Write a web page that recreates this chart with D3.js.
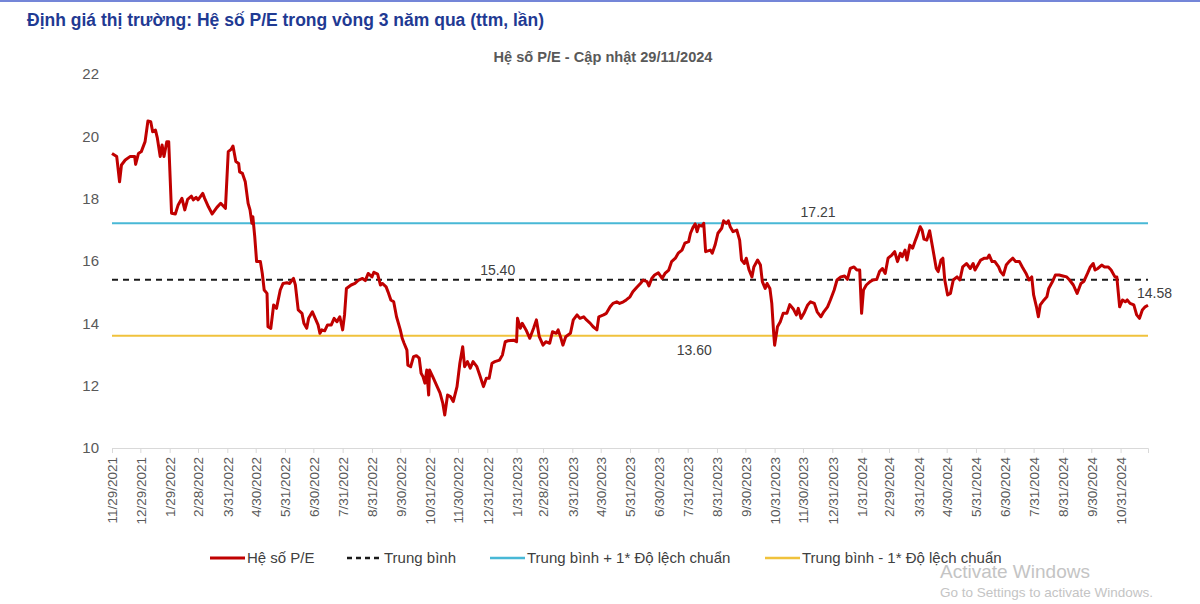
<!DOCTYPE html>
<html>
<head>
<meta charset="utf-8">
<script src="https://cdn.jsdelivr.net/npm/d3@7"></script>
<style>
  body { margin: 0; background: #fff; }
  svg { display: block; }
  text { font-family: "Liberation Sans", Arial, sans-serif; }
</style>
</head>
<body>
<svg></svg>
<script>
/* data */
var peDates = [
  "2021-11-29","2021-12-04","2021-12-07","2021-12-09","2021-12-13","2021-12-18","2021-12-23","2021-12-24","2021-12-27","2021-12-30",
  "2022-01-03","2022-01-06","2022-01-09","2022-01-11","2022-01-14","2022-01-16","2022-01-19","2022-01-21","2022-01-23","2022-01-26","2022-01-28","2022-01-31",
  "2022-02-04","2022-02-07","2022-02-11","2022-02-14","2022-02-17","2022-02-21","2022-02-23","2022-02-26","2022-02-28",
  "2022-03-05","2022-03-07","2022-03-11","2022-03-15","2022-03-20","2022-03-24","2022-03-29",
  "2022-04-01","2022-04-04","2022-04-06","2022-04-09","2022-04-12","2022-04-13","2022-04-16","2022-04-19","2022-04-22","2022-04-24","2022-04-26","2022-04-27","2022-04-29",
  "2022-05-01","2022-05-05","2022-05-07","2022-05-09","2022-05-12","2022-05-13","2022-05-16","2022-05-19","2022-05-22","2022-05-26","2022-05-29",
  "2022-06-02","2022-06-05","2022-06-09","2022-06-11","2022-06-14","2022-06-18","2022-06-20","2022-06-23","2022-06-25","2022-06-29",
  "2022-07-02","2022-07-05","2022-07-07","2022-07-09","2022-07-12","2022-07-15","2022-07-19","2022-07-22","2022-07-25","2022-07-28","2022-07-31",
  "2022-08-02","2022-08-04","2022-08-09","2022-08-13","2022-08-17","2022-08-21","2022-08-24","2022-08-27","2022-08-31",
  "2022-09-02","2022-09-06","2022-09-09","2022-09-11","2022-09-15","2022-09-17","2022-09-20","2022-09-23","2022-09-26","2022-09-30",
  "2022-10-02","2022-10-04","2022-10-07","2022-10-08","2022-10-11","2022-10-14","2022-10-17","2022-10-20","2022-10-22","2022-10-24","2022-10-26","2022-10-28","2022-10-30","2022-10-31",
  "2022-11-04","2022-11-08","2022-11-11","2022-11-14","2022-11-16","2022-11-19","2022-11-22","2022-11-25","2022-11-29",
  "2022-12-02","2022-12-05","2022-12-07","2022-12-10","2022-12-13","2022-12-16","2022-12-20","2022-12-23","2022-12-27","2022-12-30",
  "2023-01-02","2023-01-05","2023-01-08","2023-01-13","2023-01-16","2023-01-19","2023-01-22","2023-01-28","2023-01-31",
  "2023-02-01","2023-02-04","2023-02-06","2023-02-10","2023-02-14","2023-02-18","2023-02-21","2023-02-24","2023-02-28",
  "2023-03-03","2023-03-07","2023-03-10","2023-03-14","2023-03-16","2023-03-19","2023-03-21","2023-03-24","2023-03-29",
  "2023-04-01","2023-04-05","2023-04-08","2023-04-12","2023-04-15","2023-04-19","2023-04-22","2023-04-26","2023-04-28",
  "2023-05-03","2023-05-06","2023-05-10","2023-05-13","2023-05-17","2023-05-20","2023-05-24","2023-05-27","2023-05-31",
  "2023-06-03","2023-06-07","2023-06-11","2023-06-14","2023-06-18","2023-06-20","2023-06-23","2023-06-26","2023-06-30",
  "2023-07-04","2023-07-07","2023-07-11","2023-07-14","2023-07-18","2023-07-21","2023-07-25","2023-07-28",
  "2023-08-01","2023-08-03","2023-08-06","2023-08-08","2023-08-10","2023-08-12","2023-08-15","2023-08-17","2023-08-19","2023-08-24","2023-08-26","2023-08-29",
  "2023-09-01","2023-09-05","2023-09-07","2023-09-10","2023-09-12","2023-09-14","2023-09-17","2023-09-21","2023-09-24","2023-09-26","2023-09-29",
  "2023-10-01","2023-10-04","2023-10-07","2023-10-09","2023-10-13","2023-10-16","2023-10-18","2023-10-21","2023-10-23","2023-10-26","2023-10-28","2023-10-30","2023-10-31",
  "2023-11-03","2023-11-06","2023-11-09","2023-11-13","2023-11-16","2023-11-20","2023-11-23","2023-11-25","2023-11-28",
  "2023-12-01","2023-12-05","2023-12-08","2023-12-12","2023-12-15","2023-12-19","2023-12-22","2023-12-26","2023-12-29",
  "2024-01-02","2024-01-05","2024-01-09","2024-01-13","2024-01-16","2024-01-19","2024-01-23","2024-01-26","2024-01-29","2024-01-31",
  "2024-02-02","2024-02-05","2024-02-09","2024-02-12","2024-02-16","2024-02-19","2024-02-22","2024-02-25","2024-02-28",
  "2024-03-03","2024-03-06","2024-03-09","2024-03-12","2024-03-14","2024-03-17","2024-03-19","2024-03-22","2024-03-25","2024-03-28","2024-03-30",
  "2024-04-02","2024-04-04","2024-04-06","2024-04-09","2024-04-12","2024-04-15","2024-04-19","2024-04-21","2024-04-24","2024-04-26","2024-04-28",
  "2024-05-01","2024-05-04","2024-05-07","2024-05-11","2024-05-14","2024-05-17","2024-05-21","2024-05-25","2024-05-28","2024-05-30",
  "2024-06-02","2024-06-05","2024-06-09","2024-06-12","2024-06-14","2024-06-17","2024-06-20","2024-06-24","2024-06-26","2024-06-29",
  "2024-07-02","2024-07-05","2024-07-09","2024-07-12","2024-07-16","2024-07-19","2024-07-23","2024-07-26","2024-07-29","2024-07-31",
  "2024-08-03","2024-08-05","2024-08-07","2024-08-11","2024-08-14","2024-08-16","2024-08-20","2024-08-23","2024-08-27","2024-08-31",
  "2024-09-04","2024-09-07","2024-09-11","2024-09-15","2024-09-19","2024-09-22","2024-09-26","2024-09-29",
  "2024-10-02","2024-10-04","2024-10-07","2024-10-11","2024-10-14","2024-10-18","2024-10-21","2024-10-25","2024-10-27","2024-10-30",
  "2024-11-02","2024-11-05","2024-11-07","2024-11-10","2024-11-14","2024-11-17","2024-11-20","2024-11-23","2024-11-26","2024-11-29"
];

var peValues = [
  19.45,19.35,18.54,19.08,19.24,19.35,19.35,19.10,19.45,19.51,
  19.83,20.49,20.47,20.15,20.20,19.94,19.35,19.72,19.35,19.83,19.83,17.53,
  17.51,17.80,18.01,17.64,17.98,18.08,17.96,18.04,17.96,
  18.17,18.01,17.74,17.51,17.72,17.85,17.69,
  19.51,19.58,19.69,19.19,19.13,18.86,18.81,18.54,17.85,17.64,17.21,17.42,16.78,
  15.98,15.98,15.60,15.07,14.96,13.89,13.84,14.59,14.48,15.07,15.28,
  15.30,15.28,15.44,15.23,14.43,14.32,14.00,13.84,14.16,14.37,
  14.16,13.95,13.68,13.79,13.76,13.95,13.95,14.16,14.05,14.21,13.79,
  14.27,15.12,15.23,15.28,15.39,15.44,15.37,15.60,15.49,
  15.64,15.58,15.23,15.28,15.17,15.01,14.75,14.69,14.21,13.79,
  13.52,13.36,13.14,12.66,12.61,12.93,12.96,12.88,12.40,12.29,12.08,12.50,11.70,12.50,
  12.24,11.97,11.77,11.43,11.06,11.70,11.65,11.49,11.97,
  12.72,13.25,12.61,12.77,12.56,12.77,12.61,12.34,11.97,12.24,
  12.24,12.72,12.77,12.82,12.98,13.41,13.44,13.46,13.41,
  14.16,13.84,14.00,13.79,13.52,13.84,14.11,13.57,13.30,
  13.41,13.36,13.73,13.68,13.79,13.52,13.30,13.57,13.68,
  14.11,14.27,14.16,14.21,14.11,14.00,13.89,13.79,14.21,
  14.27,14.32,14.53,14.64,14.69,14.64,14.69,14.75,14.85,
  15.01,15.15,15.28,15.39,15.34,15.20,15.44,15.55,15.62,
  15.44,15.60,15.71,15.98,16.09,16.25,16.35,16.57,
  16.62,16.89,17.10,17.19,16.94,17.15,17.12,17.21,16.30,16.35,16.25,16.51,
  16.89,17.05,17.29,17.21,17.29,17.10,16.94,16.99,16.67,16.03,15.92,
  16.09,15.71,15.49,15.81,16.03,15.87,15.34,15.12,15.28,15.12,14.64,13.68,13.30,
  13.89,14.05,14.32,14.32,14.60,14.45,14.27,14.48,14.16,
  14.32,14.59,14.69,14.64,14.37,14.21,14.37,14.53,14.75,
  15.07,15.39,15.49,15.52,15.41,15.76,15.81,15.71,15.71,14.32,
  15.07,15.23,15.34,15.39,15.41,15.66,15.76,15.60,16.09,
  16.19,16.30,15.98,16.25,16.14,16.35,16.03,16.51,16.41,16.67,16.83,
  17.10,16.99,16.70,16.67,16.97,16.46,15.76,15.66,16.03,16.09,15.39,
  14.91,14.96,15.39,15.49,15.39,15.81,15.92,15.76,15.92,15.71,
  15.87,16.03,16.09,16.09,16.19,15.98,15.98,15.81,15.66,15.55,
  15.87,15.98,16.09,15.98,15.98,15.81,15.60,15.39,15.49,14.91,
  14.53,14.21,14.59,14.75,14.85,15.12,15.34,15.55,15.55,15.52,
  15.49,15.39,15.23,14.96,15.28,15.34,15.60,15.81,
  15.92,15.71,15.76,15.87,15.81,15.81,15.71,15.49,15.49,14.53,
  14.75,14.69,14.75,14.64,14.59,14.27,14.16,14.43,14.53,14.58
];

/* mean and +/- 1 std lines */
var levelNames = ["Trung bình", "Trung bình + 1* Độ lệch chuẩn", "Trung bình - 1* Độ lệch chuẩn"];
var levelValues = [15.40, 17.21, 13.60];
var levelLabels = ["15.40", "17.21", "13.60"];

var yTicks = [10, 12, 14, 16, 18, 20, 22];
var xTickLabels = [
  "11/29/2021","12/29/2021","1/29/2022","2/28/2022","3/31/2022","4/30/2022","5/31/2022","6/30/2022",
  "7/31/2022","8/31/2022","9/30/2022","10/31/2022","11/30/2022","12/31/2022","1/31/2023","2/28/2023",
  "3/31/2023","4/30/2023","5/31/2023","6/30/2023","7/31/2023","8/31/2023","9/30/2023","10/31/2023",
  "11/30/2023","12/31/2023","1/31/2024","2/29/2024","3/31/2024","4/30/2024","5/31/2024","6/30/2024",
  "7/31/2024","8/31/2024","9/30/2024","10/31/2024"
];

var titleText = "Định giá thị trường: Hệ số P/E trong vòng 3 năm qua (ttm, lần)";
var subtitleText = "Hệ số P/E - Cập nhật 29/11/2024";
var peName = "Hệ số P/E";
var lastLabel = "14.58";

/* colours */
var colPE = "#c00000";
var colMean = "#1a1a1a";
var colUp = "#48b8d6";
var colLow = "#f0c23c";
var colText = "#595959";

/* svg setting */
var svgWidth = 1200;
var svgHeight = 604;
var scale = {};

var parseISO = d3.timeParse("%Y-%m-%d");
var parseLabel = d3.timeParse("%m/%d/%Y");
var fmtLabel = d3.timeFormat("%-m/%-d/%Y");

var peData = peDates.map(function(d, i){
  return {date: parseISO(d), value: peValues[i]};
});

var svg = d3.select("svg")
    .attr("width", svgWidth)
    .attr("height", svgHeight);

setScale();
drawFrame();
drawAxis();
drawLines();
drawLabels();
drawLegend();

function setScale(){
  scale.x = d3.scaleTime()
      .domain(d3.extent(peData, function(d){ return d.date; }))
      .range([112, 1148]);

  scale.y = d3.scaleLinear()
      .domain([10, 22])
      .range([448, 74]);
}

function drawFrame(){
  // thin blue rule on top
  svg.append("rect")
      .attr("x", 0).attr("y", 0)
      .attr("width", svgWidth).attr("height", 2)
      .attr("fill", "#7486d8");

  svg.append("text")
      .attr("x", 27).attr("y", 26)
      .attr("font-size", "17.5px")
      .attr("font-weight", "bold")
      .attr("fill", "#1f3a93")
      .text(titleText);

  svg.append("text")
      .attr("x", 603).attr("y", 62)
      .attr("text-anchor", "middle")
      .attr("font-size", "14.6px")
      .attr("font-weight", "bold")
      .attr("fill", colText)
      .text(subtitleText);
}

function drawAxis(){
  var yAxis = svg.append("g")
      .attr("class", "y_axis")
      .attr("transform", translate(101, 0))
      .call(d3.axisLeft(scale.y).tickValues(yTicks).tickSize(0).tickPadding(2));
  yAxis.select(".domain").remove();
  yAxis.selectAll("text")
      .attr("font-size", "15px")
      .attr("font-family", "Liberation Sans, Arial, sans-serif")
      .attr("fill", colText);

  var xAxis = svg.append("g")
      .attr("class", "x_axis")
      .attr("transform", translate(0, scale.y(10)))
      .call(d3.axisBottom(scale.x)
        .tickValues(xTickLabels.map(function(s){ return parseLabel(s); }))
        .tickFormat(fmtLabel)
        .tickSize(5)
        .tickSizeOuter(5));
  xAxis.select(".domain").attr("stroke", "#d9d9d9");
  xAxis.selectAll(".tick line").attr("stroke", "#d9d9d9");
  xAxis.selectAll("text")
      .attr("font-size", "13.5px")
      .attr("font-family", "Liberation Sans, Arial, sans-serif")
      .attr("fill", colText)
      .attr("transform", "rotate(-90)")
      .attr("text-anchor", "end")
      .attr("x", -9)
      .attr("y", 0)
      .attr("dy", "0.35em");
}

function drawLines(){
  var first = peData[0].date;
  var last = peData[peData.length - 1].date;
  var flat = d3.line()
      .x(function(d){ return scale.x(d.date); })
      .y(function(d){ return scale.y(d.value); });
  var levelCols = [colMean, colUp, colLow];

  levelValues.forEach(function(v, i){
    svg.append("path")
        .datum([{date: first, value: v}, {date: last, value: v}])
        .attr("d", flat)
        .attr("fill", "none")
        .attr("stroke", levelCols[i])
        .attr("stroke-width", 2)
        .attr("stroke-dasharray", i === 0 ? "6,5" : null);
  });

  svg.append("path")
      .datum(peData)
      .attr("d", flat)
      .attr("fill", "none")
      .attr("stroke", colPE)
      .attr("stroke-width", 3)
      .attr("stroke-linejoin", "round");
}

function drawLabels(){
  // value labels on the reference lines
  var labelDates = ["2023-01-11", "2023-12-16", "2023-08-07"];
  var labelDy = [-5, -6, 19];
  levelValues.forEach(function(v, i){
    svg.append("text")
        .attr("x", scale.x(parseISO(labelDates[i])))
        .attr("y", scale.y(v) + labelDy[i])
        .attr("text-anchor", "middle")
        .attr("font-size", "14px")
        .attr("fill", "#404040")
        .text(levelLabels[i]);
  });

  var lastPt = peData[peData.length - 1];
  svg.append("text")
      .attr("x", scale.x(lastPt.date) - 11)
      .attr("y", scale.y(lastPt.value) - 7)
      .attr("font-size", "14px")
      .attr("fill", "#404040")
      .text(lastLabel);
}

function drawLegend(){
  var items = [
    {name: peName, col: colPE, dash: null, x: 210},
    {name: levelNames[0], col: colMean, dash: "5,4", x: 347},
    {name: levelNames[1], col: colUp, dash: null, x: 490},
    {name: levelNames[2], col: colLow, dash: null, x: 765}
  ];
  var ly = 558;
  var g = svg.append("g").attr("class", "legend");
  items.forEach(function(it){
    g.append("line")
        .attr("x1", it.x).attr("x2", it.x + 35)
        .attr("y1", ly).attr("y2", ly)
        .attr("stroke", it.col)
        .attr("stroke-width", it.col === colPE ? 3 : 2.5)
        .attr("stroke-dasharray", it.dash);
    g.append("text")
        .attr("x", it.x + 37)
        .attr("y", ly + 5)
        .attr("font-size", "15px")
        .attr("fill", "#404040")
        .text(it.name);
  });

  // windows watermark seen on the screenshot
  svg.append("text")
      .attr("x", 940).attr("y", 578)
      .attr("font-size", "19px")
      .attr("fill", "#c4c4c4")
      .text("Activate Windows");
  svg.append("text")
      .attr("x", 940).attr("y", 597)
      .attr("font-size", "13.5px")
      .attr("fill", "#c4c4c4")
      .text("Go to Settings to activate Windows.");
}

function translate(x, y) {
    return "translate(" + x + "," + y + ")";
}
</script>
</body>
</html>
